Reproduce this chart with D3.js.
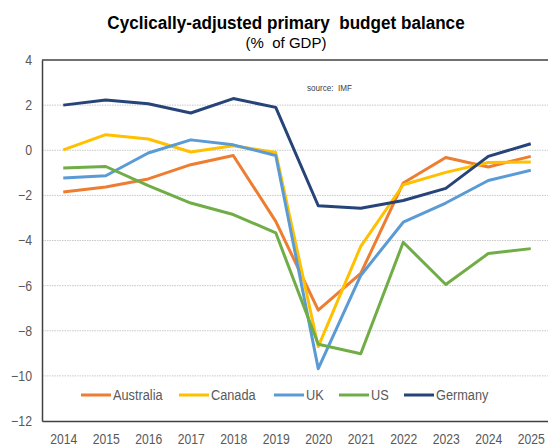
<!DOCTYPE html>
<html>
<head>
<meta charset="utf-8">
<script src="https://cdn.jsdelivr.net/npm/d3@7"></script>
<style>
	body { margin: 0; background: #fff; }
	text { font-family: "Liberation Sans Narrow", "Arial Narrow", "Liberation Sans", sans-serif; }
</style>
</head>
<body>
<div id="chart"></div>
<script>

let years = ['2014','2015','2016','2017','2018','2019','2020','2021','2022','2023','2024','2025']

let australia = [-1.85, -1.63, -1.27, -0.64, -0.23, -3.15, -7.09, -5.46, -1.45, -0.32, -0.74, -0.27]
let canada = [0.02, 0.69, 0.5, -0.08, 0.2, -0.1, -8.7, -4.26, -1.53, -0.98, -0.54, -0.52]
let uk = [-1.23, -1.13, -0.12, 0.46, 0.24, -0.23, -9.68, -5.55, -3.19, -2.34, -1.34, -0.89]
let us = [-0.79, -0.72, -1.57, -2.34, -2.85, -3.66, -8.6, -9.02, -4.08, -5.95, -4.58, -4.36]
let germany = [2.0, 2.23, 2.06, 1.65, 2.29, 1.9, -2.46, -2.57, -2.23, -1.69, -0.27, 0.29]

let seriesNames = ['Australia', 'Canada', 'UK', 'US', 'Germany']
let seriesColors = ['#ED7D31', '#FFC000', '#5B9BD5', '#70AD47', '#264478']

let yTicks = [4, 2, 0, -2, -4, -6, -8, -10, -12]

let series = [australia, canada, uk, us, germany].map((values, i) => ({
	name: seriesNames[i],
	color: seriesColors[i],
	values: values.map((v, j) => ({year: years[j], value: v}))
}))

let width = 548
let height = 446

let plotLeft = 42
let plotRight = 552
let plotTop = 60
let plotBottom = 421

const svg = d3.select('#chart')
	.append('svg')
	.attr('width', width)
	.attr('height', height)

// no narrow font installed, so squeeze the glyphs a bit
function narrow(sel, factor){
	sel.each(function(){
		let w = this.getComputedTextLength()
		d3.select(this)
			.attr('textLength', w * factor)
			.attr('lengthAdjust', 'spacingAndGlyphs')
	})
}

let xScale = d3.scalePoint()
	.domain(years)
	.range([plotLeft, plotRight])
	.padding(0.5)

let yScale = d3.scaleLinear()
	.domain([-12, 4])
	.range([plotBottom, plotTop])

// grid lines
svg.append('g')
	.selectAll('line')
	.data(yTicks.filter(d => d > -12 && d < 4))
	.enter()
	.append('line')
	.attr('x1', plotLeft)
	.attr('x2', plotRight)
	.attr('y1', d => yScale(d))
	.attr('y2', d => yScale(d))
	.attr('stroke', '#c8c8c8')
	.attr('stroke-width', 1)
	.attr('stroke-dasharray', '1.5,1')

// frame top
svg.append('line')
	.attr('x1', plotLeft)
	.attr('x2', plotRight)
	.attr('y1', plotTop)
	.attr('y2', plotTop)
	.attr('stroke', '#404040')
	.attr('stroke-width', 1.5)

let axisFont = '"Liberation Sans Narrow", "Arial Narrow", "Liberation Sans", sans-serif'

let yAxis = g => g
	.attr('transform', `translate(${plotLeft},0)`)
	.call(d3.axisLeft(yScale).tickValues(yTicks).tickSize(0).tickPadding(10))
	.call(g => g.select('.domain').attr('stroke', '#404040').attr('stroke-width', 1.5))
	.call(g => g.selectAll('text').attr('fill', '#595959').attr('font-size', 14).style('font-family', axisFont))
	.call(g => narrow(g.selectAll('text'), 0.88))

let xAxis = g => g
	.attr('transform', `translate(0,${plotBottom})`)
	.call(d3.axisBottom(xScale).tickSize(0).tickPadding(13))
	.call(g => g.select('.domain').attr('stroke', '#404040').attr('stroke-width', 1.5))
	.call(g => g.selectAll('text').attr('fill', '#595959').attr('font-size', 14).style('font-family', axisFont))
	.call(g => narrow(g.selectAll('text'), 0.87))

svg.append('g').call(yAxis)
svg.append('g').call(xAxis)

let line = d3.line()
	.x(d => xScale(d.year))
	.y(d => yScale(d.value))

series.forEach(function(s){
	svg.append('path')
		.datum(s.values)
		.attr('d', line)
		.attr('fill', 'none')
		.attr('stroke', s.color)
		.attr('stroke-width', 3)
		.attr('stroke-linejoin', 'round')
})

// titles
svg.append('text')
	.attr('x', 286)
	.attr('y', 29)
	.attr('text-anchor', 'middle')
	.attr('font-size', 18)
	.attr('font-weight', 'bold')
	.attr('fill', '#000')
	.style('white-space', 'pre')
	.text('Cyclically-adjusted primary  budget balance')
	.call(t => narrow(t, 0.95))

svg.append('text')
	.attr('x', 286)
	.attr('y', 48)
	.attr('text-anchor', 'middle')
	.attr('font-size', 15)
	.attr('fill', '#000')
	.style('white-space', 'pre')
	.text('(%  of GDP)')

svg.append('text')
	.attr('x', 307)
	.attr('y', 91)
	.attr('font-size', 9)
	.attr('fill', '#404040')
	.style('white-space', 'pre')
	.text('source:  IMF')
	.call(t => narrow(t, 0.9))

// legend
let legendX = [81, 179, 274, 339, 404]
let legend = svg.append('g')

series.forEach(function(s, i){
	legend.append('line')
		.attr('x1', legendX[i])
		.attr('x2', legendX[i] + 30)
		.attr('y1', 395)
		.attr('y2', 395)
		.attr('stroke', s.color)
		.attr('stroke-width', 3)

	legend.append('text')
		.attr('x', legendX[i] + 32)
		.attr('y', 400)
		.attr('font-size', 14)
		.attr('fill', '#595959')
		.text(s.name)
		.call(t => narrow(t, 0.91))
})

</script>
</body>
</html>
